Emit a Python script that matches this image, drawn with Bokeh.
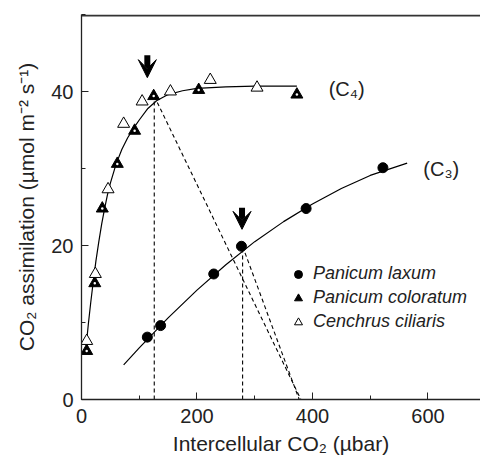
from bokeh.plotting import figure
from bokeh.models import (Range1d, SingleIntervalTicker,
                          Arrow, VeeHead, Legend, LegendItem, ColumnDataSource)
from bokeh.core.properties import value
from bokeh.embed import file_html
from bokeh.resources import INLINE

FONT = "Liberation Sans"

# ---- data ----
# Panicum laxum (C3), filled circles
c3_ci = [114, 137, 229, 277, 389, 522]
c3_a = [8.1, 9.6, 16.3, 19.9, 24.8, 30.1]
# Panicum coloratum (C4), filled triangles
pc_ci = [9, 23, 36, 62, 92, 125, 203, 373]
pc_a = [6.3, 15.1, 24.8, 30.6, 34.9, 39.4, 40.2, 39.6]
# Cenchrus ciliaris (C4), open triangles
cc_ci = [9, 24, 46, 73, 105, 154, 223, 304]
cc_a = [7.6, 16.3, 27.3, 35.8, 38.7, 40.0, 41.5, 40.5]
# fitted curves
c4_fit_ci = [8, 12, 16, 20, 25, 30, 35, 40, 45, 50, 60, 70, 80, 90, 100, 115,
             130, 150, 175, 200, 250, 300, 373]
c4_fit_a = [6.9, 9.9, 12.6, 15.1, 18.0, 20.5, 22.8, 24.8, 26.6, 28.1, 30.6,
            32.5, 34.0, 35.2, 36.3, 37.8, 38.8, 39.6, 40.1, 40.4, 40.6, 40.7, 40.7]
c3_fit_ci = [73, 100, 150, 200, 250, 300, 350, 400, 450, 500, 564]
c3_fit_a = [4.5, 6.7, 10.6, 14.2, 17.5, 20.5, 23.1, 25.4, 27.4, 29.1, 30.7]
# operating points and supply lines
op_ci = [126, 279]
op_a = [39.4, 19.9]
ambient_ci = [380, 377]
# arrows marking operating points
arrow_ci = [114, 278]
arrow_top = [44.7, 24.9]
arrow_tip = [41.8, 22.1]
# curve labels
lab_ci = [428, 592]
lab_a = [40.3, 30.0]
lab_text = ["(C\u2084)", "(C\u2083)"]

X_MAX = 691
Y_MAX = 50

p = figure(width=480, height=459, x_range=Range1d(0, X_MAX), y_range=Range1d(0, Y_MAX),
           output_backend="svg", toolbar_location=None,
           min_border_left=81, min_border_right=0, min_border_top=14,
           min_border_bottom=60)
p.grid.visible = False
p.outline_line_color = None
p.background_fill_color = "white"
p.border_fill_color = "white"

# top frame line, drawn along the upper edge of the frame
p.segment(x0=[0], y0=[Y_MAX - 0.12], x1=[X_MAX], y1=[Y_MAX - 0.12],
          line_color="#333333", line_width=2)

p.xaxis.ticker = SingleIntervalTicker(interval=200, num_minor_ticks=2)
p.yaxis.ticker = SingleIntervalTicker(interval=20, num_minor_ticks=2)
for ax in (p.xaxis[0], p.yaxis[0]):
    ax.major_tick_in = 7
    ax.major_tick_out = 0
    ax.minor_tick_in = 4
    ax.minor_tick_out = 0
    ax.axis_line_color = "#222222"
    ax.axis_line_width = 1.3
    ax.major_tick_line_color = "#222222"
    ax.minor_tick_line_color = "#222222"
    ax.major_label_text_font = FONT
    ax.major_label_text_font_size = "20px"
    ax.major_label_text_color = "#222222"
    ax.axis_label_text_font = FONT
    ax.axis_label_text_font_size = "21px"
    ax.axis_label_text_font_style = "normal"
    ax.axis_label_text_color = "#222222"
p.xaxis[0].major_label_standoff = 9
p.yaxis[0].major_label_standoff = 8
p.xaxis[0].axis_label = "Intercellular CO\u2082 (\u00b5bar)"
p.yaxis[0].axis_label = "CO\u2082 assimilation (\u00b5mol m\u207b\u00b2 s\u207b\u00b9)"
p.xaxis[0].axis_label_standoff = 6
p.yaxis[0].axis_label_standoff = 10

# dashed supply/operating lines
p.segment(x0=op_ci, y0=[0, 0], x1=op_ci, y1=op_a, line_color="black",
          line_width=1.1, line_dash="4 3")
p.segment(x0=op_ci, y0=op_a, x1=ambient_ci, y1=[0, 0], line_color="black",
          line_width=1.1, line_dash="4 3")

# fitted curves
p.line(c4_fit_ci, c4_fit_a, line_color="black", line_width=1.2)
p.line(c3_fit_ci, c3_fit_a, line_color="black", line_width=1.2)

# data points
r_c3 = p.scatter(c3_ci, c3_a, marker="circle", size=10, fill_color="black",
                 line_color="black")
r_pc = p.scatter(pc_ci, pc_a, marker="triangle", size=12, fill_color="black",
                 line_color="black")
p.scatter(pc_ci, pc_a, marker="circle", size=2.5, fill_color="white",
          line_color=None)
r_cc = p.scatter(cc_ci, cc_a, marker="triangle", size=12, fill_color="white",
                 line_color="black", line_width=1)

# arrows
asrc = ColumnDataSource(dict(x=arrow_ci, y0=arrow_top, y1=arrow_tip))
p.add_layout(Arrow(end=VeeHead(size=18, fill_color="black", line_color="black"),
                   source=asrc, x_start="x", y_start="y0", x_end="x", y_end="y1",
                   line_width=6, line_color="black"))

# curve labels
p.text(x=lab_ci, y=lab_a, text=lab_text, text_font=value(FONT),
       text_font_size="20px", text_baseline="middle", text_color="#222222")

legend = Legend(items=[
    LegendItem(label="Panicum laxum", renderers=[r_c3]),
    LegendItem(label="Panicum coloratum", renderers=[r_pc]),
    LegendItem(label="Cenchrus ciliaris", renderers=[r_cc]),
], location=(207, 67), glyph_width=20, glyph_height=20, label_standoff=5,
    spacing=3, padding=10, border_line_color=None, background_fill_alpha=0,
    label_text_font=FONT, label_text_font_size="18px",
    label_text_font_style="italic", label_text_color="#222222")
p.add_layout(legend)

open("out.html", "w").write(file_html(p, INLINE))
